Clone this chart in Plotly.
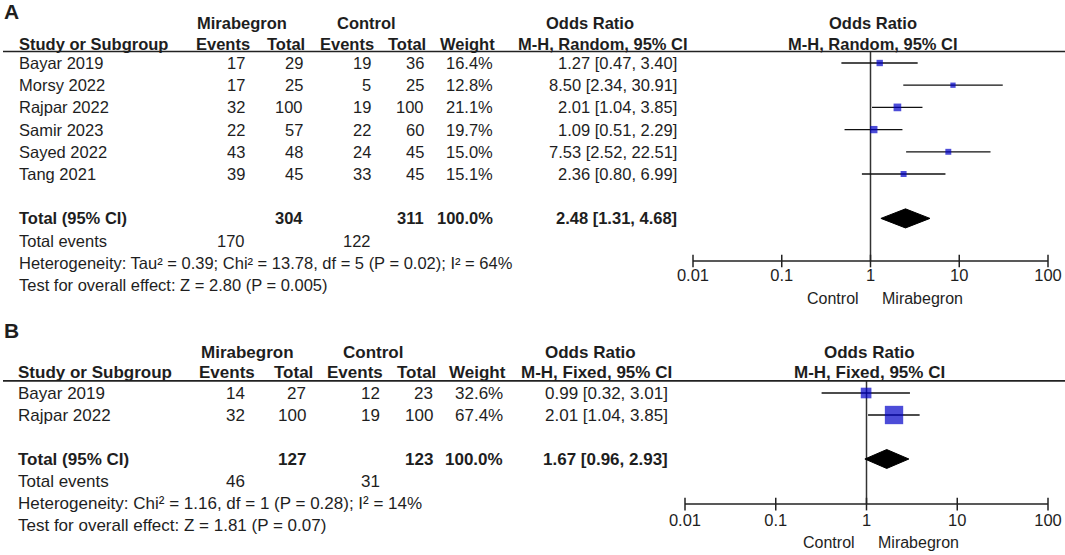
import plotly.graph_objects as go

W, H = 1065, 555

# Panel A - random effects
studies_a = ["Bayar 2019", "Morsy 2022", "Rajpar 2022", "Samir 2023", "Sayed 2022", "Tang 2021"]
mir_events_a = [17, 17, 32, 22, 43, 39]
mir_total_a = [29, 25, 100, 57, 48, 45]
ctl_events_a = [19, 5, 19, 22, 24, 33]
ctl_total_a = [36, 25, 100, 60, 45, 45]
weight_a = [16.4, 12.8, 21.1, 19.7, 15.0, 15.1]
or_a = [1.27, 8.50, 2.01, 1.09, 7.53, 2.36]
lo_a = [0.47, 2.34, 1.04, 0.51, 2.52, 0.80]
hi_a = [3.40, 30.91, 3.85, 2.29, 22.51, 6.99]
pooled_a = [2.48, 1.31, 4.68]
sums_a = [304, 311, 170, 122]
total_weight_a = 100.0
het_a = "Heterogeneity: Tau² = 0.39; Chi² = 13.78, df = 5 (P = 0.02); I² = 64%"
test_a = "Test for overall effect: Z = 2.80 (P = 0.005)"

# Panel B - fixed effect
studies_b = ["Bayar 2019", "Rajpar 2022"]
mir_events_b = [14, 32]
mir_total_b = [27, 100]
ctl_events_b = [12, 19]
ctl_total_b = [23, 100]
weight_b = [32.6, 67.4]
or_b = [0.99, 2.01]
lo_b = [0.32, 1.04]
hi_b = [3.01, 3.85]
pooled_b = [1.67, 0.96, 2.93]
sums_b = [127, 123, 46, 31]
total_weight_b = 100.0
het_b = "Heterogeneity: Chi² = 1.16, df = 1 (P = 0.28); I² = 14%"
test_b = "Test for overall effect: Z = 1.81 (P = 0.07)"

tick_vals = [0.01, 0.1, 1, 10, 100]
tick_text = ["0.01", "0.1", "1", "10", "100"]

FONT = "Liberation Sans, Arial, sans-serif"
TXT = "#1e1e1e"
BLUE = "#0000c8"

fig = go.Figure()
annotations = []
shapes = []


def fx(x):
    # pixel -> paper fraction
    return x / W


def add_text(x, y, s, yref, anchor="right", bold=False, size=16):
    annotations.append(dict(
        x=fx(x), y=y, xref="paper", yref=yref,
        text="<b>%s</b>" % s if bold else s,
        showarrow=False, xanchor=anchor, yanchor="middle",
        font=dict(family=FONT, size=size, color=TXT),
    ))


def panel(p, studies, me, mt, ce, ct, wt, est, lo, hi, pooled, sums, wsum, het, test, method):
    xref = p["xaxis"].replace("axis", "")
    yref = p["yaxis"].replace("axis", "")
    c, h = p["cols"], p["head"]
    fs = p["size"]
    n = len(studies)
    tot_row = n + 1

    # column headers
    add_text(2, p["label_row"], p["label"], yref, "left", True, 21)
    add_text(h["mir"], p["top_row"], "Mirabegron", yref, "center", True, fs)
    add_text(h["ctl"], p["top_row"], "Control", yref, "center", True, fs)
    add_text(h["orr"], p["top_row"], "Odds Ratio", yref, "center", True, fs)
    add_text(h["forest"], p["top_row"], "Odds Ratio", yref, "center", True, fs)
    add_text(c["name"], p["sub_row"], "Study or Subgroup", yref, "left", True, fs)
    for key, lab in [("ev1", "Events"), ("tot1", "Total"), ("ev2", "Events"),
                     ("tot2", "Total"), ("wt", "Weight")]:
        add_text(h[key], p["sub_row"], lab, yref, "center", True, fs)
    add_text(h["mh"], p["sub_row"], method, yref, "center", True, fs)
    add_text(h["forest"], p["sub_row"], method, yref, "center", True, fs)
    shapes.append(dict(type="line", xref="paper", yref=yref, x0=fx(3), x1=1,
                       y0=p["line_row"], y1=p["line_row"], line=dict(color="#222", width=1.6)))

    # study rows
    for i in range(n):
        add_text(c["name"], i, studies[i], yref, "left", size=fs)
        add_text(c["ev1"], i, str(me[i]), yref, size=fs)
        add_text(c["tot1"], i, str(mt[i]), yref, size=fs)
        add_text(c["ev2"], i, str(ce[i]), yref, size=fs)
        add_text(c["tot2"], i, str(ct[i]), yref, size=fs)
        add_text(c["wt"], i, "%.1f%%" % wt[i], yref, size=fs)
        add_text(c["ci"], i, "%.2f [%.2f, %.2f]" % (est[i], lo[i], hi[i]), yref, size=fs)

    # totals
    add_text(c["name"], tot_row, "Total (95% CI)", yref, "left", True, fs)
    add_text(c["tot1"], tot_row, str(sums[0]), yref, bold=True, size=fs)
    add_text(c["tot2"], tot_row, str(sums[1]), yref, bold=True, size=fs)
    add_text(c["wt"], tot_row, "%.1f%%" % wsum, yref, bold=True, size=fs)
    add_text(c["ci"], tot_row, "%.2f [%.2f, %.2f]" % tuple(pooled), yref, bold=True, size=fs)
    add_text(c["name"], tot_row + 1, "Total events", yref, "left", size=fs)
    add_text(c["ev1"], tot_row + 1, str(sums[2]), yref, size=fs)
    add_text(c["ev2"], tot_row + 1, str(sums[3]), yref, size=fs)
    add_text(c["name"], tot_row + 2, het, yref, "left", size=fs)
    add_text(c["name"], tot_row + 3, test, yref, "left", size=fs)

    # forest: line of no effect
    fig.add_trace(go.Scatter(x=[1, 1], y=[p["line_row"], p["axis_row"]], mode="lines",
                             line=dict(color="#333", width=1.5), xaxis=xref, yaxis=yref,
                             hoverinfo="skip", showlegend=False))
    # confidence intervals and boxes
    for i in range(n):
        fig.add_trace(go.Scatter(x=[lo[i], hi[i]], y=[i, i], mode="lines",
                                 line=dict(color="#111", width=1.3),
                                 xaxis=xref, yaxis=yref, cliponaxis=False,
                                 hoverinfo="skip", showlegend=False))
    fig.add_trace(go.Scatter(
        x=est, y=list(range(n)), mode="markers",
        marker=dict(symbol="square", color=BLUE, size=[0.78 * w ** 0.75 for w in wt],
                    line=dict(width=0)),
        xaxis=xref, yaxis=yref, cliponaxis=False, showlegend=False))
    # pooled diamond
    hh = 0.43
    fig.add_trace(go.Scatter(
        x=[pooled[1], pooled[0], pooled[2], pooled[0], pooled[1]],
        y=[tot_row, tot_row - hh, tot_row, tot_row + hh, tot_row],
        mode="lines", fill="toself", fillcolor="black", line=dict(color="black", width=1),
        xaxis=xref, yaxis=yref, showlegend=False, hoverinfo="skip"))
    # axis with crossing ticks
    fig.add_trace(go.Scatter(
        x=tick_vals, y=[p["axis_row"]] * len(tick_vals), mode="lines+markers",
        line=dict(color="#222", width=1.5),
        marker=dict(symbol="line-ns-open", size=9, line=dict(color="#222", width=1.5)),
        xaxis=xref, yaxis=yref, cliponaxis=False, showlegend=False, hoverinfo="skip"))
    fig.add_trace(go.Scatter(
        x=tick_vals, y=[p["tick_row"]] * len(tick_vals), mode="text", text=tick_text,
        textfont=dict(family=FONT, size=16.5, color=TXT),
        xaxis=xref, yaxis=yref, cliponaxis=False, showlegend=False, hoverinfo="skip"))
    mid = (p["dom"][0] + p["dom"][1]) / 2
    add_text(mid - 10, p["side_row"], "Control", yref, "right", size=16)
    add_text(mid + 9, p["side_row"], "Mirabegron", yref, "left", size=16)


pa = dict(
    xaxis="xaxis", yaxis="yaxis", label="A", size=16.5,
    row0=63, step=22.2, top_px=0, bot_px=315, dom=(693, 1048),
    label_row=-2.3, top_row=-1.8, sub_row=-0.86, line_row=-0.52,
    axis_row=8.92, tick_row=9.64, side_row=10.6,
    cols=dict(name=17, ev1=247, tot1=305, ev2=373, tot2=426, wt=495, ci=679),
    head=dict(mir=242, ctl=366, orr=590, ev1=223, tot1=286, ev2=347, tot2=407,
              wt=467, mh=603, forest=873),
)
pb = dict(
    xaxis="xaxis2", yaxis="yaxis2", label="B", size=17,
    row0=393, step=22.0, top_px=315, bot_px=555, dom=(685, 1048),
    label_row=-2.82, top_row=-1.86, sub_row=-0.91, line_row=-0.55,
    axis_row=5.05, tick_row=5.86, side_row=6.8,
    cols=dict(name=16, ev1=247, tot1=308, ev2=382, tot2=435, wt=505, ci=670),
    head=dict(mir=247, ctl=373, orr=590, ev1=227, tot1=293, ev2=355, tot2=416,
              wt=477, mh=596, forest=869),
)

panel(pa, studies_a, mir_events_a, mir_total_a, ctl_events_a, ctl_total_a, weight_a,
      or_a, lo_a, hi_a, pooled_a, sums_a, total_weight_a, het_a, test_a, "M-H, Random, 95% CI")
panel(pb, studies_b, mir_events_b, mir_total_b, ctl_events_b, ctl_total_b, weight_b,
      or_b, lo_b, hi_b, pooled_b, sums_b, total_weight_b, het_b, test_b, "M-H, Fixed, 95% CI")

layout_axes = {}
for p in (pa, pb):
    y_top = (p["top_px"] - p["row0"]) / p["step"]
    y_bot = (p["bot_px"] - p["row0"]) / p["step"]
    layout_axes[p["xaxis"]] = dict(type="log", range=[-2, 2], visible=False,
                                   domain=[fx(p["dom"][0]), fx(p["dom"][1])],
                                   anchor=p["yaxis"].replace("axis", ""))
    layout_axes[p["yaxis"]] = dict(range=[y_bot, y_top], visible=False,
                                   domain=[1 - p["bot_px"] / H, 1 - p["top_px"] / H],
                                   anchor=p["xaxis"].replace("axis", ""))

fig.update_layout(
    width=W, height=H,
    margin=dict(l=0, r=0, t=0, b=0),
    paper_bgcolor="white", plot_bgcolor="white",
    annotations=annotations, shapes=shapes,
    showlegend=False,
    **layout_axes,
)

# drop the default page margin so the figure sits at the window's corner
fig.write_html("out.html", config={"displayModeBar": False},
               post_script="document.body.style.margin='0';document.body.style.overflow='hidden';")
